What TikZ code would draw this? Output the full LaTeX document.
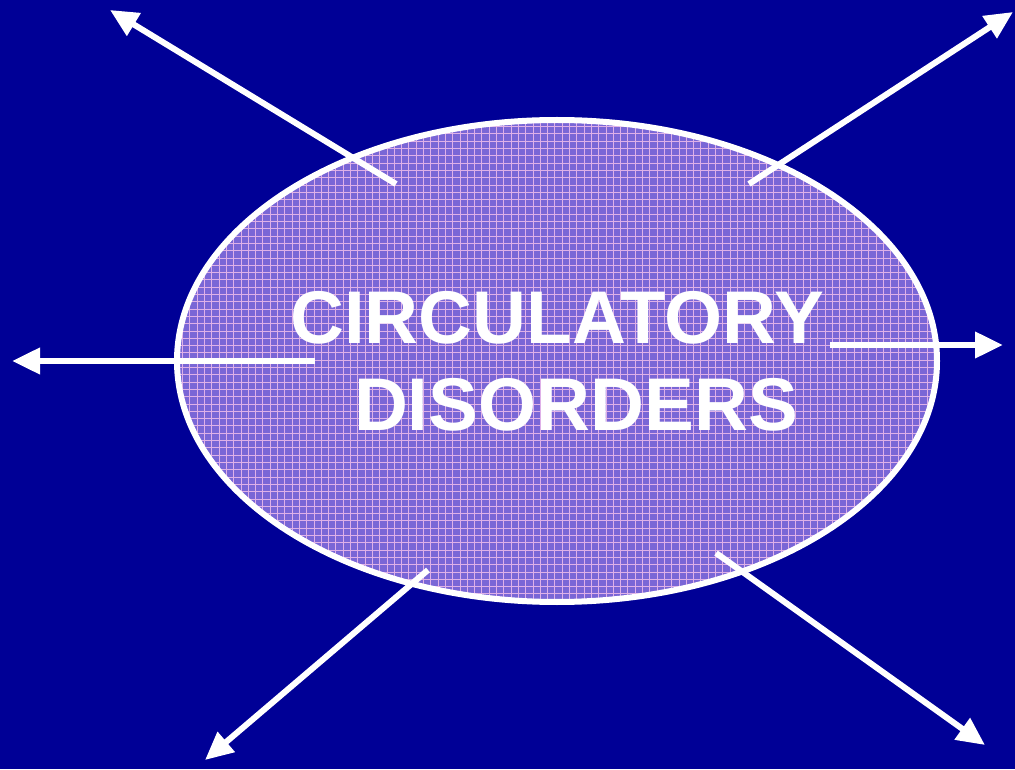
\documentclass[tikz,border=0pt]{standalone}
\usepackage{fontspec}
\setmainfont{Liberation Sans}
\usetikzlibrary{arrows.meta}

\definecolor{navy}{RGB}{0,0,150}
\definecolor{lilac}{RGB}{122,102,214}
\definecolor{gridpink}{RGB}{222,176,232}

\tikzset{
  spoke/.style={draw=white, line width=4.5pt, -{Triangle[length=21pt,width=19pt]}},
  title/.style={text=white, font=\bfseries\fontsize{56}{65}\selectfont}
}

\begin{document}
\begin{tikzpicture}[x=0.75pt, y=0.75pt]
% background
\fill[navy] (0,0) rectangle (1015,769);
\useasboundingbox (0,0) rectangle (1015,769);
% ellipse with grid
\fill[lilac] (557,408) ellipse [x radius=380, y radius=241];
\begin{scope}
  \clip (557,408) ellipse [x radius=380, y radius=241];
  \foreach \x in {0,7.3,...,1015}
    \draw[gridpink, line width=0.6pt] (\x,0) -- (\x,769);
  \foreach \y in {0,7.3,...,769}
    \draw[gridpink, line width=0.6pt] (0,\y) -- (1015,\y);
\end{scope}
\draw[white, line width=4.5pt] (557,408) ellipse [x radius=380, y radius=241];
% ends of the spokes
\coordinate (tlin) at (396,585);
\coordinate (tlout) at (110,759);
\coordinate (trin) at (749,585);
\coordinate (trout) at (1013,757);
\coordinate (lin) at (315,408);
\coordinate (lout) at (12,408);
\coordinate (rin) at (830,424);
\coordinate (rout) at (1003,424);
\coordinate (blin) at (428,199);
\coordinate (blout) at (205,9);
\coordinate (brin) at (716,216);
\coordinate (brout) at (985,24);
% spokes
\draw[spoke] (tlin) -- (tlout);
\draw[spoke] (trin) -- (trout);
\draw[spoke] (lin) -- (lout);
\draw[spoke] (rin) -- (rout);
\draw[spoke] (blin) -- (blout);
\draw[spoke] (brin) -- (brout);
% label
\node[title] (circ) at (557,451) {CIRCULATORY};
\node[title] (dis) at (576,364) {DISORDERS};
\end{tikzpicture}
\end{document}
